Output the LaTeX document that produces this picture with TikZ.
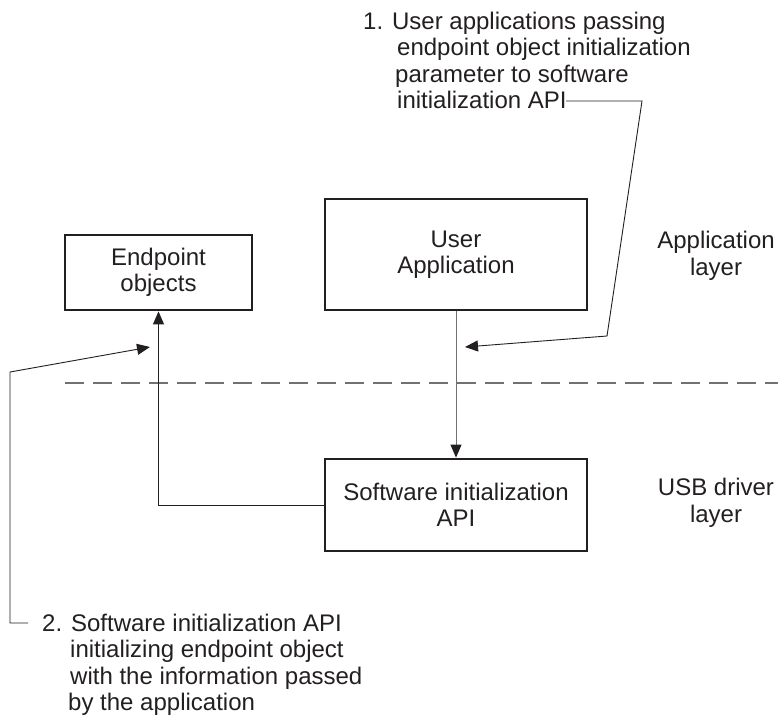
\documentclass[tikz,border=0pt]{standalone}
\usepackage{fontspec}
\setmainfont{Liberation Sans}
\usepackage{tikz}
\usetikzlibrary{arrows.meta}
\usetikzlibrary{positioning}

\definecolor{ink}{HTML}{231F20}
\definecolor{midgray}{HTML}{707174}

\tikzset{
  layerbox/.style={draw=ink, line width=2.8pt, align=center, text=ink, inner sep=0},
  notetext/.style={anchor=base west, align=left, inner sep=0, text=ink},
  sidetext/.style={align=center, inner sep=0, text=ink},
  conn/.style={draw=ink, line width=0.9pt},
  divider/.style={draw=midgray, line width=1.2pt, dash pattern=on 19pt off 9pt}
}

\begin{document}
\begin{tikzpicture}[x=1pt, y=-1pt, font=\fontsize{24}{26.5}\selectfont, >={Triangle[length=13pt,width=11pt,color=ink]}]
\useasboundingbox (0,0) rectangle (778,718);

% boxes
\node[layerbox, minimum width=187pt, minimum height=75pt] (endpt) at (158.5,272.5) {Endpoint\\objects};
\node[layerbox, minimum width=262pt, minimum height=111pt] (userapp) at (456,254.5) {User\\Application};
\node[layerbox, minimum width=262pt, minimum height=92pt] (swapi) at (456,505) {Software initialization\\API};

% layer names
\node[sidetext] (applayer) at (716,256) {Application\\layer};
\node[sidetext] (usblayer) at (716,503) {USB driver\\layer};

% layer border
\draw[divider] (65,383) -- (778,383);

% flow
\draw[conn, draw=midgray, ->] (userapp.south) -- (swapi.north);
\draw[conn, ->] (swapi.west) -| (endpt.south);

% note 1 (base = last line)
\node[notetext] (note1) at (363,108.5) {1. User applications passing\\
\hspace*{34pt}endpoint object initialization\\
\hspace*{32pt}parameter to software\\
\hspace*{34pt}initialization API};
\coordinate (note1end) at (566,101);
\coordinate (hook1) at (642,101);
\coordinate (bend1) at (607,336);
\coordinate (tip1) at (465,347);
\draw[conn, ->] (note1end) -- (hook1) -- (bend1) -- (tip1);

% note 2 (base = last line)
\node[notetext] (note2) at (42,710.5) {2. Software initialization API\\
\hspace*{28pt}initializing endpoint object\\
\hspace*{28pt}with the information passed\\
\hspace*{26pt}by the application};
\coordinate (note2end) at (28,623);
\coordinate (hook2) at (10,623);
\coordinate (bend2) at (10,372);
\coordinate (tip2) at (150,347);
\draw[conn, ->] (note2end) -- (hook2) -- (bend2) -- (tip2);
\end{tikzpicture}
\end{document}
